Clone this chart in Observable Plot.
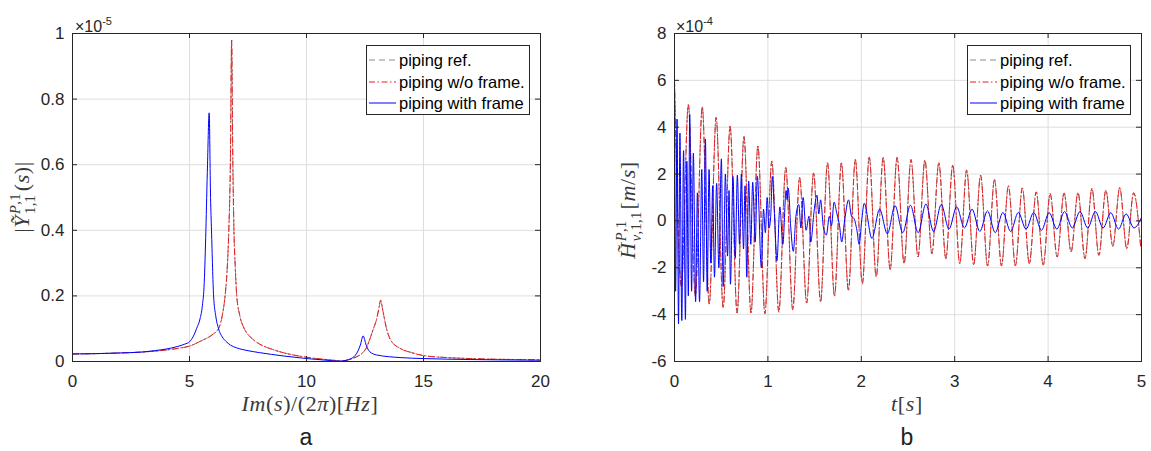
<!DOCTYPE html>
<html><head><meta charset="utf-8">
<script src="https://cdn.jsdelivr.net/npm/d3@7"></script>
<script src="https://cdn.jsdelivr.net/npm/@observablehq/plot@0.6"></script>
<style>
body{margin:0;background:#fff;}
#wrap{position:relative;width:1151px;height:451px;overflow:hidden;background:#fff;font-family:"Liberation Sans",Arial,sans-serif;}
.panel{position:absolute;top:0;}
.lab{position:absolute;white-space:nowrap;color:#3a3a3a;line-height:1;}
.m{font-family:"Liberation Serif","DejaVu Serif",serif;font-style:italic;font-size:22px;letter-spacing:0.6px;}
.up{font-style:normal;}
.ss{display:inline-flex;flex-direction:column;font-size:0.66em;line-height:1.0;vertical-align:0.62em;margin-left:1px;margin-right:2px;letter-spacing:0.3px;}
.cen{transform:translate(-50%,-50%);}
.rot{transform:translate(-50%,-50%) rotate(-90deg);}
.exp{font-size:16px;color:#262626;}
.exp sup{font-size:11px;vertical-align:0.6em;}
.cap{font-size:23px;color:#222;}
.legend{position:absolute;}
</style></head>
<body>
<div id="wrap"></div>
<script>
// ---------- Panel a: frequency response |Y| (x 1e-5) ----------
const freqRef = [0, 1, 2, 3, 4, 4.5, 5.0, 5.5, 6.0, 6.24, 6.4, 6.52, 6.6, 6.68, 6.75, 6.8, 6.85, 6.9, 6.96, 7.02, 7.15, 7.34, 7.6, 8.0, 8.5, 9, 10, 11, 11.5, 12, 12.5, 12.86, 13.0, 13.1, 13.17, 13.25, 13.42, 13.6, 14, 14.5, 15, 16, 17, 18, 19, 20];
const ampRef  = [0.023, 0.024, 0.026, 0.029, 0.035, 0.040, 0.047, 0.063, 0.083, 0.10, 0.14, 0.20, 0.27, 0.40, 0.62, 0.98, 0.62, 0.40, 0.28, 0.20, 0.14, 0.10, 0.075, 0.053, 0.038, 0.027, 0.013, 0.005, 0.002, 0.010, 0.035, 0.10, 0.13, 0.165, 0.187, 0.16, 0.10, 0.065, 0.040, 0.027, 0.018, 0.012, 0.009, 0.007, 0.006, 0.005];
const ampWoFrame = ampRef;
const freqWith = [0, 1, 2, 3, 3.5, 4, 4.5, 4.8, 5.0, 5.15, 5.3, 5.45, 5.55, 5.63, 5.7, 5.77, 5.84, 5.9, 5.94, 6.03, 6.12, 6.24, 6.4, 6.55, 6.75, 7.0, 7.5, 8, 9, 10, 11, 11.4, 11.8, 12.1, 12.3, 12.42, 12.55, 12.7, 13, 14, 15, 17, 20];
const ampWith  = [0.023, 0.024, 0.026, 0.029, 0.033, 0.038, 0.046, 0.053, 0.060, 0.075, 0.10, 0.13, 0.17, 0.24, 0.40, 0.60, 0.758, 0.50, 0.40, 0.20, 0.14, 0.10, 0.075, 0.062, 0.05, 0.042, 0.033, 0.027, 0.017, 0.009, 0.003, 0.001, 0.006, 0.02, 0.05, 0.078, 0.05, 0.03, 0.02, 0.012, 0.009, 0.006, 0.004];
const xTicksA = [0, 5, 10, 15, 20];
const yTicksA = [0, 0.2, 0.4, 0.6, 0.8, 1];

// ---------- Panel b: time response H (x 1e-4) ----------
const tRef = [0, 0.074, 0.148, 0.223, 0.297, 0.372, 0.446, 0.521, 0.595, 0.670, 0.744, 0.819, 0.893, 0.968, 1.042, 1.117, 1.191, 1.266, 1.340, 1.415, 1.489, 1.564, 1.638, 1.713, 1.787, 1.862, 1.936, 2.011, 2.085, 2.160, 2.234, 2.309, 2.383, 2.458, 2.532, 2.607, 2.681, 2.756, 2.830, 2.905, 2.979, 3.054, 3.128, 3.203, 3.277, 3.352, 3.426, 3.501, 3.575, 3.650, 3.724, 3.799, 3.873, 3.948, 4.022, 4.097, 4.171, 4.246, 4.320, 4.395, 4.469, 4.544, 4.618, 4.693, 4.767, 4.842, 4.916, 4.991];
const vRef = [6.0, -2.8, 4.97, -3.2, 4.87, -3.55, 4.42, -3.7, 4.05, -3.93, 3.6, -3.93, 3.2, -3.96, 2.55, -3.89, 2.28, -3.79, 1.85, -3.5, 2.05, -3.45, 2.48, -3.2, 2.48, -2.96, 2.62, -2.68, 2.73, -2.39, 2.71, -2.07, 2.71, -1.82, 2.62, -1.54, 2.59, -1.40, 2.48, -1.61, 2.38, -1.82, 2.17, -1.87, 1.95, -1.92, 1.77, -1.92, 1.50, -1.92, 1.41, -1.82, 1.24, -1.89, 1.17, -1.54, 1.20, -1.32, 1.21, -1.61, 1.38, -1.47, 1.31, -1.08, 1.42, -1.18, 1.2, -1.1];
const vWoFrame = vRef;
const tWith = [0, 0.012, 0.027, 0.043, 0.058, 0.078, 0.097, 0.117, 0.132, 0.148, 0.163, 0.183, 0.202, 0.226, 0.245, 0.268, 0.292, 0.311, 0.331, 0.350, 0.370, 0.389, 0.409, 0.428, 0.451, 0.475, 0.502, 0.521, 0.545, 0.568, 0.584, 0.599, 0.626, 0.650, 0.673, 0.696, 0.716, 0.739, 0.755, 0.774, 0.794, 0.817, 0.837, 0.864, 0.887, 0.930, 0.953, 0.973, 0.992, 1.012, 1.030, 1.047, 1.070, 1.097, 1.128, 1.160, 1.195, 1.206, 1.218, 1.245, 1.272, 1.300, 1.331, 1.354, 1.377, 1.409, 1.440, 1.459, 1.494, 1.525, 1.545, 1.564, 1.595, 1.626, 1.658, 1.681, 1.708, 1.739, 1.767, 1.790, 1.821, 1.864, 1.895, 1.922, 1.953, 1.977, 2.004, 2.031, 2.114, 2.196, 2.279, 2.361, 2.444, 2.526, 2.609, 2.691, 2.774, 2.856, 2.939, 3.021, 3.104, 3.186, 3.269, 3.351, 3.434, 3.516, 3.599, 3.681, 3.764, 3.846, 3.929, 4.011, 4.094, 4.176, 4.259, 4.341, 4.424, 4.506, 4.589, 4.671, 4.754, 4.836, 4.919, 5.0];
const vWith = [6.0, -3.0, 4.35, -4.4, 3.75, -4.25, 3.0, -4.2, 2.55, -3.2, 4.55, -3.0, 2.9, -3.45, 1.2, -3.45, 2.2, -2.6, 3.5, -3.0, 2.2, -1.8, 1.5, -2.4, 1.6, -2.0, 2.65, -2.8, 2.0, -1.5, 1.3, -2.7, 1.9, -1.6, 1.95, -1.0, 2.0, -1.2, 1.5, -2.4, 1.7, -1.0, 1.65, -0.9, 1.9, -2.0, 0.5, -0.5, 1.0, -0.3, 0.2, 1.9, 0.3, -1.7, 0.6, -1.0, 1.3, 0.9, 1.4, -0.3, -1.3, 0.2, 0.7, -0.3, 1.0, -0.4, 0.2, -0.9, 0.4, 1.1, 0.3, 0.9, -0.3, -0.6, 0.2, -0.2, 0.8, 0.3, -0.2, -0.9, 0.0, 0.9, 0.2, 0.1, -0.4, -1.0, 0.0, 0.75, -0.75, 0.5, -0.55, 0.65, -0.5, 0.67, -0.5, 0.72, -0.45, 0.7, -0.35, 0.6, -0.3, 0.5, -0.45, 0.43, -0.5, 0.36, -0.45, 0.36, -0.35, 0.36, -0.4, 0.35, -0.35, 0.4, -0.3, 0.4, -0.3, 0.4, -0.3, 0.35, -0.35, 0.3, -0.3, 0.15];
const xTicksB = [0, 1, 2, 3, 4, 5];
const yTicksB = [-6, -4, -2, 0, 2, 4, 6, 8];

const seriesNames = ["piping ref.", "piping w/o frame.", "piping with frame"];
const colRef = "#8c8c8c", colWo = "#ee1c1c", colWith = "#0000ff";
const dashRef = "6,4", dashWo = "6,2.5,1.5,2.5";

const zipXY = (xs, ys) => xs.map((x, i) => ({x, y: ys[i]}));

function panel({width, ml, mr, xDom, yDom, xT, yT, series, curve}) {
  const H = 451, mt = 33, mb = 90;
  const pw = width - ml - mr, ph = H - mt - mb;
  return Plot.plot({
    width, height: H, marginLeft: ml, marginRight: mr, marginTop: mt, marginBottom: mb,
    style: {fontFamily: "Liberation Sans, Arial, sans-serif", fontSize: "17px", color: "#262626", background: "transparent"},
    x: {domain: xDom}, y: {domain: yDom},
    marks: [
      Plot.gridX(xT, {stroke: "#dedede", strokeOpacity: 1}),
      Plot.gridY(yT, {stroke: "#dedede", strokeOpacity: 1}),
      ...series.map(s => Plot.line(s.data, {x: "x", y: "y", stroke: s.stroke, strokeWidth: 1, strokeDasharray: s.dash, curve, clip: true})),
      Plot.tickX(xT, {x: d => d, insetTop: ph - 5, stroke: "#262626"}),
      Plot.tickX(xT, {x: d => d, insetBottom: ph - 5, stroke: "#262626"}),
      Plot.tickY(yT, {y: d => d, insetRight: pw - 5, stroke: "#262626"}),
      Plot.tickY(yT, {y: d => d, insetLeft: pw - 5, stroke: "#262626"}),
      Plot.axisX(xT, {tickSize: 0, tickPadding: 13, tickFormat: d => String(d), label: null, fill: "#262626"}),
      Plot.axisY(yT, {tickSize: 0, tickPadding: 8, tickFormat: d => String(d), label: null, fill: "#262626"}),
      Plot.frame({stroke: "#262626"})
    ]
  });
}

const wrap = document.getElementById("wrap");

const pa = panel({
  width: 575, ml: 72, mr: 35, xDom: [0, 20], yDom: [0, 1], xT: xTicksA, yT: yTicksA, curve: "monotone-x",
  series: [
    {data: zipXY(freqRef, ampRef), stroke: colRef, dash: dashRef},
    {data: zipXY(freqRef, ampWoFrame), stroke: colWo, dash: dashWo},
    {data: zipXY(freqWith, ampWith), stroke: colWith, dash: null}
  ]
});
pa.classList.add("panel"); pa.style.left = "0px";
wrap.appendChild(pa);

const pb = panel({
  width: 576, ml: 99, mr: 10, xDom: [0, 5], yDom: [-6, 8], xT: xTicksB, yT: yTicksB, curve: "monotone-x",
  series: [
    {data: zipXY(tRef, vRef), stroke: colRef, dash: dashRef},
    {data: zipXY(tRef, vWoFrame), stroke: colWo, dash: dashWo},
    {data: zipXY(tWith, vWith), stroke: colWith, dash: null}
  ]
});
pb.classList.add("panel"); pb.style.left = "575px";
wrap.appendChild(pb);

function addHTML(html) { wrap.insertAdjacentHTML("beforeend", html); }

// exponent labels
addHTML(`<div class="lab exp" style="left:75px;top:16px">×10<sup>-5</sup></div>`);
addHTML(`<div class="lab exp" style="left:676px;top:16px">×10<sup>-4</sup></div>`);

// axis labels
addHTML(`<div class="lab m cen" style="left:310px;top:404px">Im<span class="up">(</span>s<span class="up">)/(2</span>π<span class="up">)[</span>Hz<span class="up">]</span></div>`);
addHTML(`<div class="lab m cen" style="left:907px;top:404px">t<span class="up">[</span>s<span class="up">]</span></div>`);
addHTML(`<div class="lab m rot" style="left:23px;top:197px"><span class="up">|</span>Ỹ<span class="ss"><span>P<span class="up">,1</span></span><span class="up">1,1</span></span><span class="up">(</span>s<span class="up">)|</span></div>`);
addHTML(`<div class="lab m rot" style="left:629px;top:210px">H̃<span class="ss"><span>P<span class="up">,1</span></span><span>v<span class="up">,1,1</span></span></span><span class="up">[</span>m<span class="up">/</span>s<span class="up">]</span></div>`);

// panel captions
addHTML(`<div class="lab cap cen" style="left:306px;top:437px">a</div>`);
addHTML(`<div class="lab cap cen" style="left:907px;top:437px">b</div>`);

// legends
function legend(left) {
  const rows = [[colRef, dashRef], [colWo, dashWo], [colWith, null]];
  const ys = [15, 37, 58];
  let s = `<svg class="legend" style="left:${left}px;top:45px" width="165" height="71" font-family="Liberation Sans, Arial, sans-serif" font-size="16.5">`;
  s += `<rect x="0.5" y="0.5" width="163" height="69" fill="#fff" stroke="#262626" stroke-width="1"/>`;
  rows.forEach((r, i) => {
    s += `<line x1="3" x2="30" y1="${ys[i]}" y2="${ys[i]}" stroke="${r[0]}" stroke-width="1" ${r[1] ? `stroke-dasharray="${r[1]}"` : ""}/>`;
    s += `<text x="33" y="${ys[i] + 5.5}" fill="#000">${seriesNames[i]}</text>`;
  });
  s += `</svg>`;
  addHTML(s);
}
legend(366);
legend(967);
</script>
</body></html>
